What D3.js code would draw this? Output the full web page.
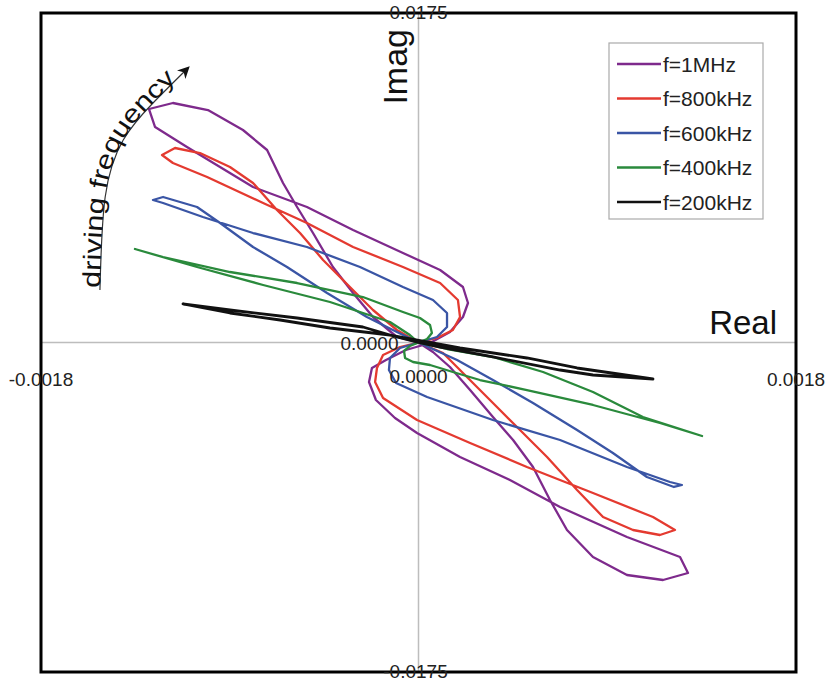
<!DOCTYPE html>
<html><head><meta charset="utf-8">
<script src="https://cdn.jsdelivr.net/npm/d3@7"></script>
<style>
html,body{margin:0;padding:0;background:#fff;}
svg{display:block;font-family:"Liberation Sans",Arial,sans-serif;}
</style></head>
<body>
<svg id="chart" width="832" height="686"></svg>
<script>
// ---- data (Real, Imag) ----
const seriesLabels = ["f=1MHz","f=800kHz","f=600kHz","f=400kHz","f=200kHz"];
const xTicks = [-0.0018, 0, 0.0018];
const yTicks = [-0.0175, 0, 0.0175];
const f1MHz = [
[0,0],[-0.000103,0.000292],[-0.000217,0.001354],[-0.000312,0.002629],[-0.000408,0.004010],
[-0.000503,0.005815],[-0.000579,0.007196],[-0.000646,0.008471],[-0.000722,0.010224],[-0.000837,0.011286],
[-0.001004,0.012348],[-0.001171,0.012720],[-0.001285,0.012401],[-0.001256,0.011445],[-0.001104,0.010383],
[-0.000789,0.008259],[-0.000532,0.007196],[-0.000312,0.005975],[-0.000074,0.004753],[0.000103,0.003850],
[0.000212,0.002948],[0.000236,0.002098],[0.000212,0.001354],[0.000150,0.000558],[0.000055,-0.000027],
[-0.000060,-0.000398],[-0.000155,-0.000929],[-0.000222,-0.001354],[-0.000236,-0.002098],[-0.000203,-0.003054],
[-0.000112,-0.004010],[-0.000007,-0.004806],[0.000198,-0.006081],[0.000436,-0.007303],[0.000675,-0.008737],
[0.000994,-0.010330],[0.001247,-0.011392],[0.001285,-0.012242],[0.001166,-0.012614],[0.000994,-0.012348],
[0.000832,-0.011392],[0.000708,-0.009958],[0.000627,-0.008365],[0.000546,-0.006612],[0.000451,-0.005178],
[0.000355,-0.003957],[0.000246,-0.002523],[0.000150,-0.001301],[0.000069,-0.000505]
];
const f800kHz = [
[0,0],[-0.000103,0.000664],[-0.000217,0.001726],[-0.000327,0.002948],[-0.000455,0.004382],
[-0.000565,0.005815],[-0.000675,0.007037],[-0.000789,0.008471],[-0.000899,0.009321],[-0.001042,0.010064],
[-0.001161,0.010330],[-0.001223,0.009958],[-0.001171,0.009533],[-0.001008,0.008790],[-0.000741,0.007409],
[-0.000532,0.006347],[-0.000312,0.005072],[-0.000074,0.004010],[0.000103,0.003160],[0.000188,0.002257],
[0.000198,0.001354],[0.000164,0.000664],[0.000088,0.000239],[-0.000088,-0.000239],[-0.000169,-0.000664],
[-0.000198,-0.001354],[-0.000207,-0.002098],[-0.000169,-0.002948],[-0.000007,-0.004116],[0.000246,-0.005338],
[0.000517,-0.006612],[0.000832,-0.007993],[0.001118,-0.009268],[0.001223,-0.009958],[0.001151,-0.010224],
[0.001023,-0.009958],[0.000880,-0.009268],[0.000756,-0.007834],[0.000613,-0.006081],[0.000484,-0.004647],
[0.000355,-0.003213],[0.000231,-0.001832],[0.000117,-0.000558]
];
const f600kHz = [
[0,0],[-0.000103,0.000558],[-0.000246,0.001354],[-0.000436,0.002629],[-0.000627,0.004010],
[-0.000789,0.005072],[-0.000946,0.006347],[-0.001056,0.007196],[-0.001218,0.007728],[-0.001266,0.007568],
[-0.001218,0.007409],[-0.001028,0.006665],[-0.000789,0.005815],[-0.000532,0.005072],[-0.000279,0.004010],
[-0.000074,0.002948],[0.000069,0.002257],[0.000136,0.001567],[0.000136,0.000823],[0.000088,0.000292],
[-0.000088,-0.000292],[-0.000136,-0.000823],[-0.000141,-0.001461],[-0.000107,-0.002151],[0.000041,-0.002894],
[0.000355,-0.004116],[0.000675,-0.005178],[0.000994,-0.006612],[0.001199,-0.007409],[0.001256,-0.007568],
[0.001218,-0.007674],[0.001089,-0.007143],[0.000927,-0.005869],[0.000756,-0.004647],[0.000546,-0.003213],
[0.000355,-0.001992],[0.000184,-0.000929]
];
const f400kHz = [
[0,0],[-0.000041,0.000398],[-0.000136,0.001089],[-0.000422,0.002151],[-0.000741,0.003054],
[-0.001056,0.004010],[-0.001352,0.004966],[-0.001218,0.004541],[-0.000899,0.003744],[-0.000579,0.003160],
[-0.000265,0.002416],[-0.000074,0.001620],[0.000007,0.001301],[0.000055,0.000929],[0.000064,0.000505],
[0.000041,0.000186],[-0.000041,-0.000186],[-0.000069,-0.000451],[-0.000064,-0.000823],[-0.000026,-0.001036],
[0.000055,-0.001195],[0.000164,-0.001567],[0.000293,-0.001992],[0.000517,-0.002523],[0.000832,-0.003319],
[0.001151,-0.004275],[0.001352,-0.004966],[0.001070,-0.003957],[0.000832,-0.002629],[0.000594,-0.001567],
[0.000355,-0.000770],[0.000136,-0.000345]
];
const f200kHz = [
[0,0],[-0.000103,0.000292],[-0.000265,0.000823],[-0.000579,0.001301],[-0.000899,0.001726],
[-0.001123,0.002045],[-0.000899,0.001567],[-0.000660,0.001195],[-0.000422,0.000770],[-0.000136,0.000398],
[0.000198,-0.000292],[0.000517,-0.000823],[0.000756,-0.001354],[0.001118,-0.001938],[0.000832,-0.001726],
[0.000675,-0.001461],[0.000355,-0.000770],[0.000103,-0.000239]
];
// annotation arc ("driving frequency"), in data units
const arcPoints = [[-0.001519,0.002788],[-0.001494,0.007728],[-0.001408,0.010755],[-0.001266,0.012720],[-0.001099,0.014579]];

const seriesData = [f1MHz, f800kHz, f600kHz, f400kHz, f200kHz];
const colors = ["#7e2a8c","#e43a30","#3a55a5","#2a8a3c","#111111"];
const widths = [2.3, 2.3, 2.3, 2.3, 2.8];

// ---- layout ----
const svg = d3.select("#chart");
const x = d3.scaleLinear().domain([-0.0018, 0.0018]).range([41, 796]);
const y = d3.scaleLinear().domain([-0.0175, 0.0175]).range([672, 13]);
const fmt = v => d3.format(".4f")(v).replace("\u2212", "-");

// axes through origin
svg.append("line").attr("x1", x(0)).attr("x2", x(0)).attr("y1", y(0.0175)).attr("y2", y(-0.0175))
  .attr("stroke", "#bdbdbd").attr("stroke-width", 1.5);
svg.append("line").attr("x1", x(-0.0018)).attr("x2", x(0.0018)).attr("y1", y(0)).attr("y2", y(0))
  .attr("stroke", "#bdbdbd").attr("stroke-width", 1.5);

// series
const line = d3.line().x(d => x(d[0])).y(d => y(d[1])).curve(d3.curveLinearClosed);
svg.append("g").selectAll("path").data(seriesData).join("path")
  .attr("d", line).attr("fill", "none")
  .attr("stroke", (d, i) => colors[i]).attr("stroke-width", (d, i) => widths[i]).attr("stroke-linejoin", "round");

// frame
svg.append("rect").attr("x", x(-0.0018)).attr("y", y(0.0175))
  .attr("width", x(0.0018) - x(-0.0018)).attr("height", y(-0.0175) - y(0.0175))
  .attr("fill", "none").attr("stroke", "#000").attr("stroke-width", 3);

// tick labels
const tickG = svg.append("g").attr("font-size", 19).attr("fill", "#222");
yTicks.forEach(v => {
  if (v === 0) {
    tickG.append("text").attr("x", x(0) - 20).attr("y", y(0) + 7).attr("text-anchor", "end").text(fmt(v));
  } else {
    tickG.append("text").attr("x", x(0) + (v < 0 ? -3 : 0)).attr("y", y(v) + 6).attr("text-anchor", "middle").text(fmt(v));
  }
});
xTicks.forEach(v => {
  if (v === 0) {
    tickG.append("text").attr("x", x(0)).attr("y", y(0) + 40).attr("text-anchor", "middle").text(fmt(v));
  } else {
    tickG.append("text").attr("x", x(v)).attr("y", y(0) + 43).attr("text-anchor", "middle").text(fmt(v));
  }
});

// axis titles
svg.append("text").attr("x", 777).attr("y", y(0) - 9).attr("text-anchor", "end")
  .attr("font-size", 33).attr("fill", "#111").text("Real");
svg.append("text").attr("transform", `translate(${x(0) - 12},${y(0.0175) + 16}) rotate(-90)`)
  .attr("text-anchor", "end").attr("font-size", 34).attr("fill", "#111").text("Imag");

// legend
const lg = svg.append("g");
lg.append("rect").attr("x", 609).attr("y", 43).attr("width", 154).attr("height", 176)
  .attr("fill", "#fff").attr("stroke", "#aaa").attr("stroke-width", 1.2);
seriesLabels.forEach((lab, i) => {
  const yy = 64 + i * 34.5;
  lg.append("line").attr("x1", 617).attr("x2", 661).attr("y1", yy).attr("y2", yy)
    .attr("stroke", colors[i]).attr("stroke-width", 2.5);
  lg.append("text").attr("x", 663).attr("y", yy).attr("dy", "0.36em")
    .attr("font-size", 21).attr("fill", "#222").text(lab);
});

// driving frequency annotation
const defs = svg.append("defs");
defs.append("marker").attr("id", "arrow").attr("viewBox", "0 0 10 10").attr("refX", 8).attr("refY", 5)
  .attr("markerUnits", "userSpaceOnUse").attr("markerWidth", 14).attr("markerHeight", 12).attr("orient", "auto")
  .append("path").attr("d", "M0,0 L10,5 L0,10 L3,5 Z").attr("fill", "#111");
const arcLine = d3.line().x(d => x(d[0])).y(d => y(d[1])).curve(d3.curveNatural);
svg.append("path").attr("id", "freqArc").attr("d", arcLine(arcPoints))
  .attr("fill", "none").attr("stroke", "#333").attr("stroke-width", 1.2).attr("marker-end", "url(#arrow)");
svg.append("text").attr("font-size", 25).attr("fill", "#111")
  .append("textPath").attr("href", "#freqArc").attr("startOffset", 2)
  .attr("textLength", 232).attr("lengthAdjust", "spacingAndGlyphs")
  .text("driving frequency");
</script>
</body></html>
